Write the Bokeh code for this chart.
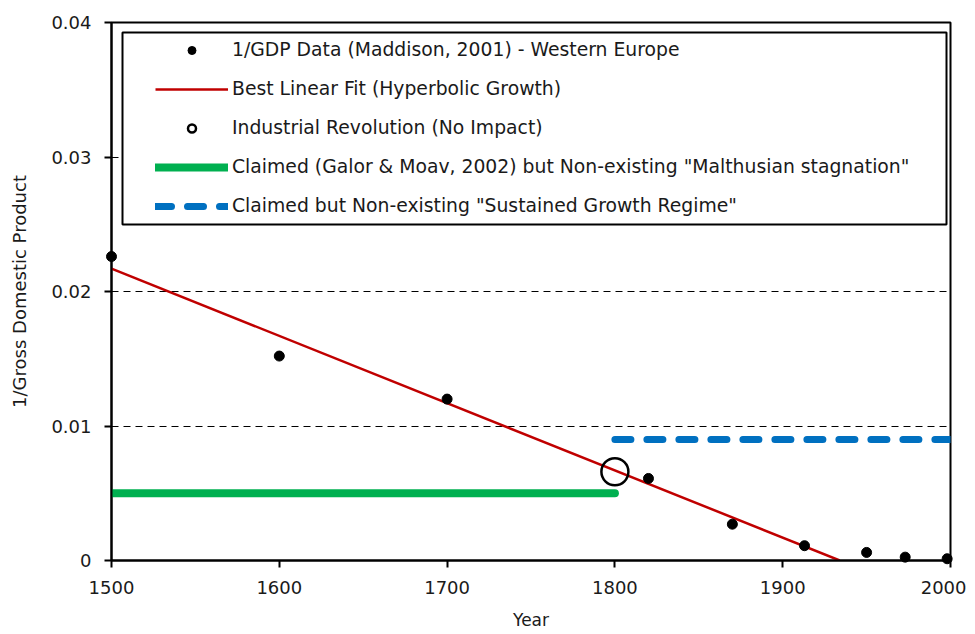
from bokeh.plotting import figure
from bokeh.models import (FixedTicker, CustomJSTickFormatter, Range1d,
                          Legend, LegendItem, BoxAnnotation)
from bokeh.embed import file_html
from bokeh.resources import INLINE

# ---- data ----
years = [1500, 1600, 1700, 1820, 1870, 1913, 1950, 1973, 1998]
inv_gdp = [0.0226, 0.0152, 0.0120, 0.0061, 0.0027, 0.0011, 0.0006, 0.00025, 0.00013]
fit_years = [1500, 1934]
fit_vals = [0.0217, 0.0]
ir_year = [1800]
ir_val = [0.0066]
malthus_years = [1500, 1800]
malthus_vals = [0.005, 0.005]
sustained_years = [1800, 2000]
sustained_vals = [0.009, 0.009]
x_ticks = [1500, 1600, 1700, 1800, 1900, 2000]
y_ticks = [0, 0.01, 0.02, 0.03, 0.04]

labels = [
    "1/GDP Data (Maddison, 2001) - Western Europe",
    "Best Linear Fit (Hyperbolic Growth)",
    "Industrial Revolution (No Impact)",
    "Claimed (Galor & Moav, 2002) but Non-existing \"Malthusian stagnation\"",
    "Claimed but Non-existing \"Sustained Growth Regime\"",
]

FONT = "DejaVu Sans"
TXT = "#1a1a1a"

X0, X1, Y0, Y1 = 1500, 2000, 0.0, 0.04
FRAME_W, FRAME_H = 839, 538
BORDER_L, BORDER_T, BORDER_R, BORDER_B = 111, 22, 16, 74

p = figure(width=BORDER_L + FRAME_W + BORDER_R, height=BORDER_T + FRAME_H + BORDER_B,
           output_backend="svg", toolbar_location=None,
           x_range=Range1d(X0, X1), y_range=Range1d(Y0, Y1),
           min_border_left=BORDER_L, min_border_right=BORDER_R,
           min_border_top=BORDER_T, min_border_bottom=BORDER_B)
p.outline_line_color = "black"
p.outline_line_width = 2
p.background_fill_color = "white"
p.border_fill_color = "white"

# axes
p.xaxis.ticker = FixedTicker(ticks=x_ticks)
p.yaxis.ticker = FixedTicker(ticks=y_ticks)
p.yaxis.formatter = CustomJSTickFormatter(code="return tick == 0 ? '0' : tick.toFixed(2);")
for ax in (p.xaxis[0], p.yaxis[0]):
    ax.axis_line_width = 2
    ax.axis_line_color = "black"
    ax.major_tick_line_width = 2
    ax.major_tick_line_color = "black"
    ax.major_tick_out = 7
    ax.major_tick_in = 0
    ax.minor_tick_line_color = None
    ax.major_label_text_font = FONT
    ax.major_label_text_font_size = "18px"
    ax.major_label_text_color = TXT
    ax.axis_label_text_font = FONT
    ax.axis_label_text_font_style = "normal"
    ax.axis_label_text_color = TXT
p.xaxis.axis_label = "Year"
p.xaxis.axis_label_text_font_size = "17px"
p.xaxis.major_label_standoff = 13
p.xaxis.axis_label_standoff = 13
p.yaxis.axis_label = "1/Gross Domestic Product"
p.yaxis.axis_label_text_font_size = "18px"
p.yaxis.major_label_standoff = 13
p.yaxis.axis_label_standoff = 18

# grid
p.xgrid.grid_line_color = None
p.ygrid.ticker = FixedTicker(ticks=y_ticks)
p.ygrid.grid_line_color = "black"
p.ygrid.grid_line_width = 1.2
p.ygrid.grid_line_dash = "7 5"

# glyphs
r_green = p.line(malthus_years, malthus_vals, line_color="#00b050", line_width=8, line_cap="round")
r_blue = p.line(sustained_years, sustained_vals, line_color="#0070c0", line_width=7,
                line_cap="round", line_dash="16 16")
r_fit = p.line(fit_years, fit_vals, line_color="#c00000", line_width=2.5)
r_ir = p.scatter(ir_year, ir_val, size=27, fill_color=None, line_color="black", line_width=2.5)
r_data = p.scatter(years, inv_gdp, size=10, fill_color="black", line_color="black", level="overlay")

# legend frame (pixel offsets inside the plot frame converted to data units)
px = (X1 - X0) / FRAME_W
py = (Y1 - Y0) / FRAME_H
box = BoxAnnotation(left=X0 + 11 * px, right=X0 + 835 * px,
                    top=Y1 - 10 * py, bottom=Y1 - 202 * py,
                    fill_color="white", fill_alpha=1.0,
                    line_color="black", line_width=2, line_alpha=1.0)
p.add_layout(box)

legend = Legend(items=[
    LegendItem(label=labels[0], renderers=[r_data]),
    LegendItem(label=labels[1], renderers=[r_fit]),
    LegendItem(label=labels[2], renderers=[r_ir]),
    LegendItem(label=labels[3], renderers=[r_green]),
    LegendItem(label=labels[4], renderers=[r_blue]),
], location=(44, 344))
legend.margin = 0
legend.padding = 0
legend.spacing = 18
legend.glyph_width = 73
legend.glyph_height = 20
legend.label_height = 20
legend.label_standoff = 4
legend.label_text_font = FONT
legend.label_text_font_size = "18.8px"
legend.label_text_color = TXT
legend.border_line_color = None
legend.background_fill_alpha = 0
p.add_layout(legend)

open("out.html", "w").write(file_html(p, INLINE))
